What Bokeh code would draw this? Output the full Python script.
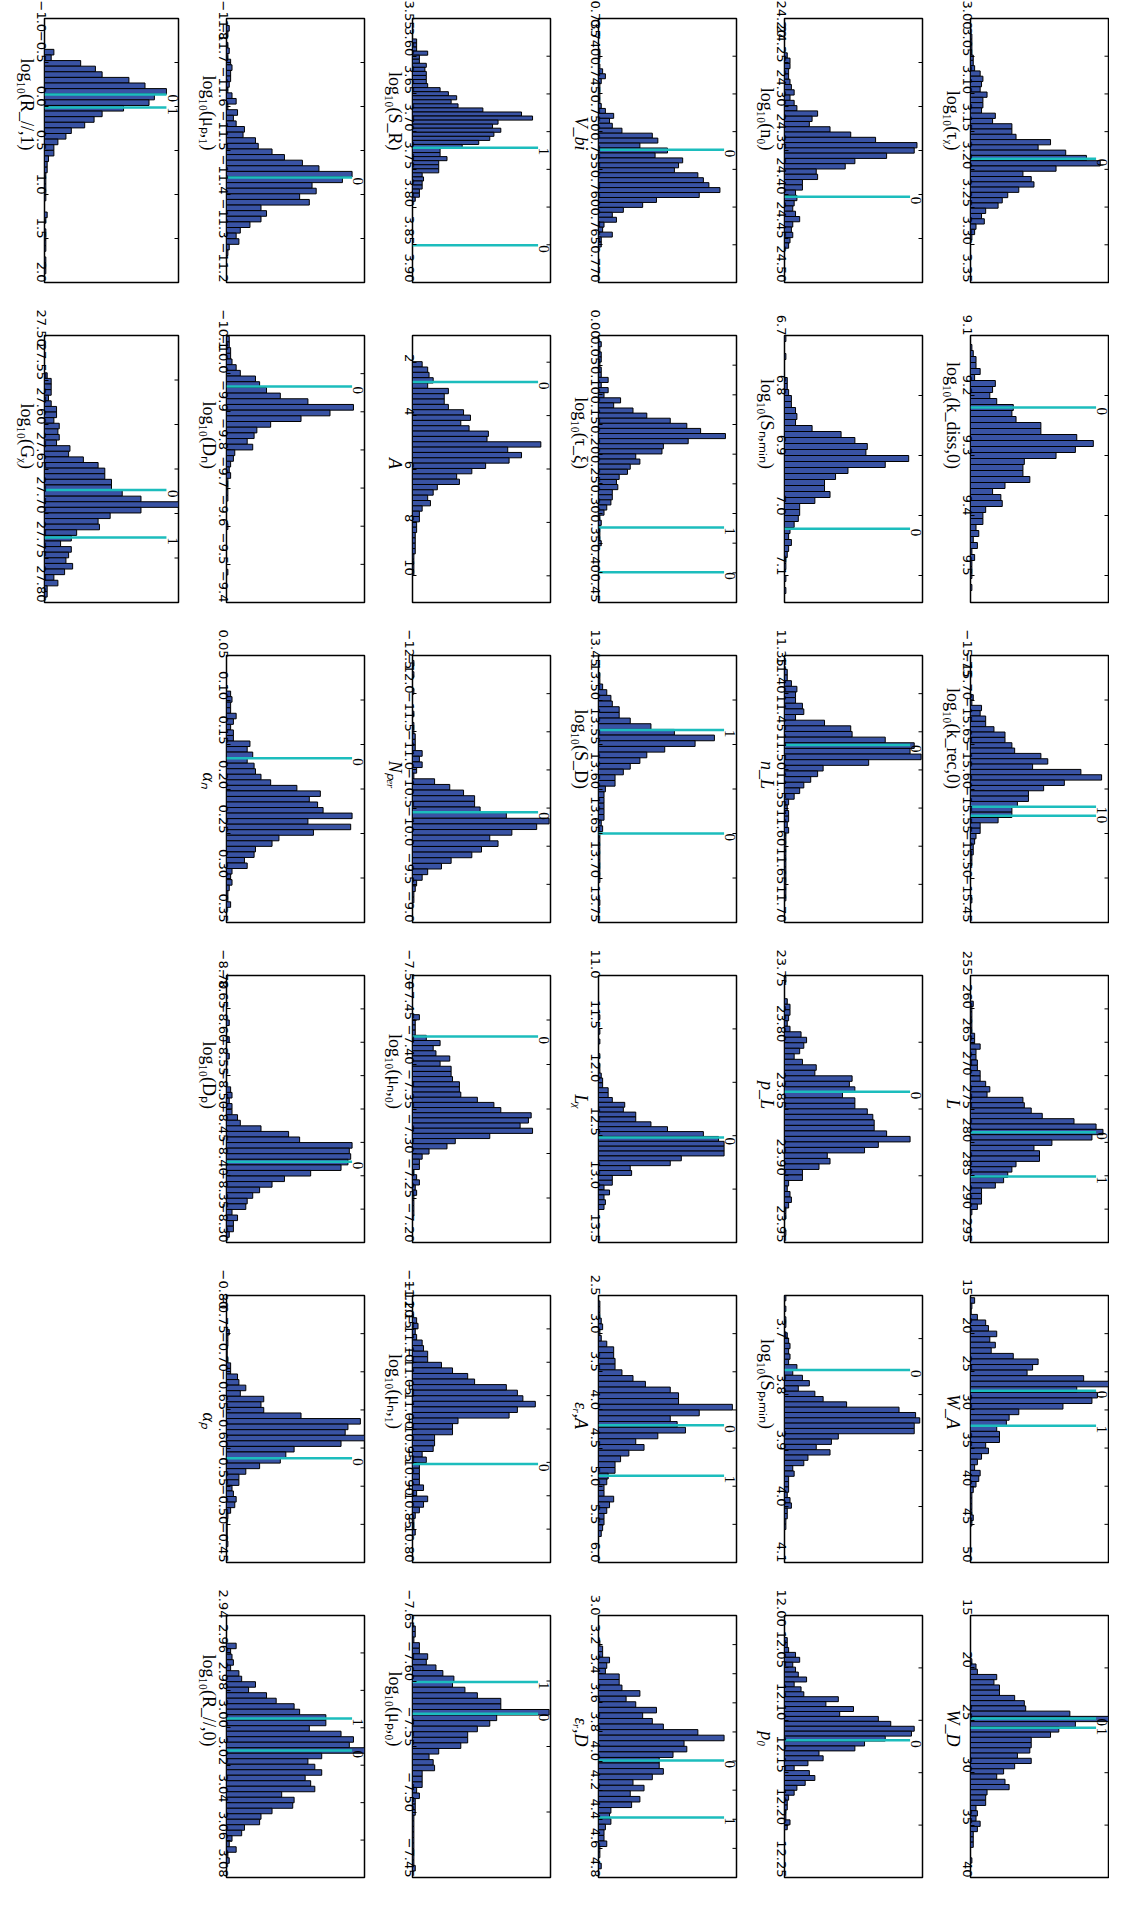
import math
from bokeh.plotting import figure
from bokeh.models import Range1d, FixedTicker, LinearAxis, ColumnDataSource
from bokeh.layouts import row, column
from bokeh.embed import file_html
from bokeh.resources import INLINE
from bokeh.core.properties import value

# ---------------- data (bar lengths in % of the panel's count range) ----------------
PANEL_KEYS = ["tau_chi", "k_diss", "k_rec", "L", "W_A", "W_D",
              "n0", "S_nmin", "n_L", "p_L", "S_pmin", "p_0",
              "V_bi", "tau_xi", "S_D", "L_chi", "eps_A", "eps_D",
              "S_R", "A", "N_per", "mu_n0", "mu_n1", "mu_p0",
              "mu_p1", "D_n", "alpha_n", "D_p", "alpha_p", "R_par0",
              "R_par1", "G_chi"]

LABELS = ["log₁₀(τᵪ)", "log₁₀(k_diss,0)", "log₁₀(k_rec,0)", "L", "W_A", "W_D",
          "log₁₀(n₀)", "log₁₀(Sₙ,ₘᵢₙ)", "n_L", "p_L", "log₁₀(Sₚ,ₘᵢₙ)", "p₀",
          "V_bi", "log₁₀(τ_ξ)", "log₁₀(S_D)", "Lᵪ", "εᵣ,A", "εᵣ,D",
          "log₁₀(S_R)", "A", "Nₚₑᵣ", "log₁₀(μₙ,₀)", "log₁₀(μₙ,₁)", "log₁₀(μₚ,₀)",
          "log₁₀(μₚ,₁)", "log₁₀(Dₙ)", "αₙ", "log₁₀(Dₚ)", "αₚ", "log₁₀(R_//,0)",
          "log₁₀(R_//,1)", "log₁₀(Gᵪ)"]

AXIS_LO = [3.00, 9.1, -15.75, 255, 15, 15, 24.20, 6.7, 11.35, 23.75, 3.623, 12.00,
           0.735, 0.00, 13.45, 11.0, 2.5, 3.0, 3.55, 1, -12.5, -7.50, -11.20, -7.65,
           -11.8, -10.1, 0.05, -8.70, -0.80, 2.94, -1.0, 27.50]
AXIS_HI = [3.35, 9.545, -15.45, 295, 50, 40, 24.50, 7.145, 11.70, 23.95, 4.1, 12.25,
           0.770, 0.45, 13.75, 13.5, 6.0, 4.8, 3.90, 11, -9.0, -7.20, -10.80, -7.45,
           -11.2, -9.4, 0.35, -8.30, -0.45, 3.08, 2.0, 27.80]

TICK_FIRST = [3.00, 9.1, -15.75, 255, 15, 15, 24.20, 6.7, 11.35, 23.75, 3.7, 12.00,
              0.735, 0.00, 13.45, 11.0, 2.5, 3.0, 3.55, 2, -12.5, -7.50, -11.20, -7.65,
              -11.8, -10.1, 0.05, -8.70, -0.80, 2.94, -1.0, 27.50]
TICK_LAST = [3.35, 9.5, -15.45, 295, 50, 40, 24.50, 7.1, 11.70, 23.95, 4.1, 12.25,
             0.770, 0.45, 13.75, 13.5, 6.0, 4.8, 3.90, 10, -9.0, -7.20, -10.80, -7.45,
             -11.2, -9.4, 0.35, -8.30, -0.45, 3.08, 2.0, 27.80]
TICK_STEP = [0.05, 0.1, 0.05, 5, 5, 5, 0.05, 0.1, 0.05, 0.05, 0.1, 0.05,
             0.005, 0.05, 0.05, 0.5, 0.5, 0.2, 0.05, 2, 0.5, 0.05, 0.05, 0.05,
             0.1, 0.1, 0.05, 0.05, 0.05, 0.02, 0.5, 0.05]
TICK_DEC = [2, 1, 2, 0, 0, 0, 2, 1, 2, 2, 1, 2,
            3, 2, 2, 1, 1, 1, 2, 0, 1, 2, 2, 2,
            1, 1, 2, 2, 2, 2, 1, 2]

BIN_START = [3.0205, 9.115, -15.706, 258.85, 15.29, 19.125, 24.239, 6.70, 11.3682, 23.7509,
             3.623, 12.0211, 0.73905, 0.0104, 13.4693, 11.367, 2.571, 3.172, 3.5771, 1.98,
             -12.4355, -7.456, -11.1667, -7.642, -11.784, -10.098, 0.0900, -8.6334, -0.7555,
             2.9548, -0.6494, 27.5419]
BIN_WIDTH = [0.007, 0.01, 0.006, 0.8, 0.73, 0.5, 0.006, 0.01, 0.0074, 0.004125,
             0.0095, 0.0047, 0.000656, 0.0086, 0.006375, 0.0456, 0.0753, 0.03825, 0.00538, 0.2,
             0.0739, 0.0058, 0.00835, 0.00425, 0.01275, 0.0149, 0.00623, 0.00835, 0.0073,
             0.00294, 0.06375, 0.0063]

MARKS = [[3.186], [9.22], [-15.580, -15.570], [278.5, 285.1], [27.47, 32.06], [24.84, 25.72],
         [24.4025], [7.022], [11.4673], [23.837], [3.756], [12.119],
         [0.75241], [0.3235, 0.399], [13.5336, 13.65], [12.516], [4.2, 4.8625], [3.997, 4.388],
         [3.7215, 3.8506], [2.74], [-10.444], [-7.4314], [-10.9475], [-7.5993, -7.575],
         [-11.4385], [-9.966], [0.1655], [-8.421], [-0.5865], [2.9951, 3.0121],
         [-0.1375, 0.0125], [27.6736, 27.7269]]
MARK_LABELS = [["0"], ["0"], ["1", "0"], ["0", "1"], ["0", "1"], ["0", "1"],
               ["0"], ["0"], ["0"], ["0"], ["0"], ["0"],
               ["0"], ["1", "0"], ["1", "0"], ["0"], ["0", "1"], ["0", "1"],
               ["1", "0"], ["0"], ["0"], ["0"], ["0"], ["1", "0"],
               ["0"], ["0"], ["0"], ["0"], ["0"], ["1", "0"],
               ["0", "1"], ["0", "1"]]

tau_chi_counts = [1, 1, 1, 1, 2, 2, 3, 7, 9, 8, 7, 12, 9, 9, 8, 18, 16, 30, 30, 33, 58, 49, 69, 84, 94,
                  62, 38, 44, 46, 35, 27, 23, 20, 11, 8, 10, 4, 3, 1]
k_diss_counts = [1, 2, 4, 4, 7, 3, 18, 16, 14, 19, 31, 30, 33, 51, 51, 77, 89, 76, 62, 39, 38, 38, 43,
                 25, 16, 22, 23, 11, 9, 9, 4, 6, 2, 5, 1, 3, 1, 1, 1, 0, 1]
k_rec_counts = [2, 1, 8, 7, 11, 11, 17, 25, 25, 30, 32, 51, 56, 45, 80, 95, 68, 53, 42, 42, 34, 30, 30,
                20, 7, 7, 4, 3, 2, 2, 1, 1, 0, 0, 0, 0, 0, 0, 1]
L_counts = [2, 1, 1, 1, 1, 1, 3, 3, 7, 4, 4, 5, 5, 7, 7, 11, 14, 12, 38, 39, 44, 52, 75, 91, 96, 88, 59,
            46, 50, 50, 33, 30, 27, 24, 18, 8, 8, 8, 5, 1]
W_A_counts = [3, 1, 0.5, 5, 11, 13, 19, 14, 18, 15, 31, 49, 45, 41, 82, 100, 77, 92, 88, 67, 35, 28, 26,
              19, 21, 21, 11, 13, 8, 5, 3, 7, 6, 4, 2, 1, 1, 1, 1, 2, 1]
W_D_counts = [1, 4, 5, 19, 17, 21, 21, 32, 39, 40, 72, 100, 76, 64, 58, 44, 44, 43, 34, 44, 32, 24, 19,
              25, 28, 12, 11, 11, 4, 5, 4, 7, 5, 2, 2, 2, 0, 0, 1]
n0_counts = [2, 4, 4, 3, 3, 4, 5, 7, 4, 7, 9, 24, 20, 18, 33, 48, 66, 96, 94, 74, 51, 44, 23, 24, 13, 13,
             8, 9, 7, 6, 8, 11, 6, 5, 6, 4, 3]
S_nmin_counts = [1, 0, 0, 1, 0, 0, 0, 2, 2, 3, 5, 5, 8, 9, 8, 20, 41, 51, 60, 59, 90, 73, 46, 37, 29, 29,
                 33, 22, 11, 11, 10, 7, 4, 3, 5, 3, 2, 1, 1, 0, 1, 0, 1]
n_L_counts = [2, 2, 5, 9, 8, 8, 13, 14, 8, 29, 48, 49, 73, 94, 91, 99, 61, 28, 24, 19, 14, 11, 7, 3, 2, 3,
              3, 2, 3, 1, 1, 1, 1, 1, 1, 1, 1, 1, 1, 1, 1]
p_L_counts = [1, 0, 0, 0, 2, 4, 4, 3, 2, 4, 12, 16, 14, 11, 7, 13, 23, 22, 49, 47, 51, 42, 51, 51, 60, 64,
              65, 65, 74, 91, 68, 58, 31, 33, 25, 13, 13, 3, 2, 4, 5, 3, 1, 1, 0, 0, 1]
S_pmin_counts = [1, 0, 1, 0, 1, 1, 0, 2, 3, 4, 3, 4, 3, 9, 6, 13, 18, 10, 22, 28, 45, 83, 95, 98, 94, 94,
                 39, 34, 23, 33, 17, 14, 6, 7, 3, 3, 3, 2, 4, 5, 2, 2, 1, 1]
p_0_counts = [2, 2, 3, 8, 11, 6, 8, 10, 16, 7, 12, 14, 39, 30, 50, 40, 68, 77, 94, 92, 73, 58, 51, 25, 28,
              17, 7, 18, 22, 15, 9, 7, 3, 2, 2, 1, 1, 4, 2]
V_bi_counts = [1, 1, 0, 1, 3, 5, 2, 1, 1, 1, 1, 2, 5, 11, 8, 10, 17, 39, 43, 30, 50, 41, 61, 58, 55, 72,
               76, 80, 88, 73, 42, 32, 18, 10, 13, 4, 3, 10, 2, 2]
tau_xi_counts = [2, 1, 2, 2, 1, 2, 2, 7, 2, 7, 4, 16, 11, 25, 35, 52, 64, 74, 92, 65, 47, 46, 27, 30, 23,
                 21, 15, 13, 14, 10, 10, 9, 6, 4, 1, 2, 1, 1, 1, 2]
S_D_counts = [1, 1, 3, 6, 9, 10, 15, 15, 23, 38, 55, 84, 70, 48, 35, 30, 23, 18, 12, 12, 5, 4, 4, 4, 4, 4,
              2, 3, 1, 1, 1, 1, 1, 1, 1, 1, 1, 0, 0, 0, 1]
L_chi_counts = [1, 0, 0, 1, 0, 1, 0, 0, 1, 0, 1, 1, 2, 3, 3, 7, 7, 10, 19, 18, 27, 27, 38, 50, 76, 87, 91,
                91, 91, 60, 52, 23, 24, 10, 10, 4, 8, 4, 5, 4]
eps_A_counts = [1, 1, 1, 2, 3, 1, 2, 6, 11, 11, 12, 12, 17, 25, 34, 52, 58, 58, 97, 73, 52, 57, 63, 43, 27,
                33, 22, 16, 12, 12, 7, 6, 4, 4, 11, 8, 6, 4, 4, 3, 2]
eps_D_counts = [1, 3, 3, 8, 6, 5, 15, 15, 17, 30, 20, 27, 42, 32, 39, 47, 72, 91, 62, 64, 54, 44, 44, 47,
                39, 25, 33, 23, 30, 24, 9, 8, 9, 5, 4, 4, 6, 1, 1, 0, 2]
S_R_counts = [3, 3, 3, 11, 5, 5, 10, 9, 10, 10, 10, 11, 20, 26, 32, 28, 33, 51, 79, 87, 62, 58, 64, 59, 56,
              48, 36, 20, 20, 25, 19, 19, 19, 7, 8, 7, 7, 5, 5, 2]
A_counts = [7, 11, 12, 15, 11, 26, 23, 23, 26, 37, 42, 35, 41, 55, 54, 93, 69, 79, 70, 53, 43, 32, 34, 18,
            15, 11, 13, 7, 5, 5, 3, 3, 2, 2, 2, 2, 1, 1, 1, 1]
N_per_counts = [1, 0, 1, 0, 0, 1, 0, 0, 0, 1, 0, 1, 1, 2, 2, 2, 7, 5, 7, 3, 1, 16, 27, 37, 45, 45, 49, 68,
                99, 90, 72, 56, 62, 50, 43, 28, 21, 11, 7, 3, 2, 1, 1]
mu_n0_counts = [5, 2, 2, 2, 10, 20, 15, 17, 27, 20, 28, 28, 29, 34, 34, 35, 47, 59, 64, 86, 84, 78, 87, 56,
                31, 25, 12, 7, 5, 5, 1, 3, 5, 2, 3, 1, 1, 1, 1]
mu_n1_counts = [3, 4, 2, 3, 7, 8, 11, 11, 21, 29, 40, 45, 68, 76, 80, 89, 76, 70, 33, 29, 29, 16, 16, 15,
                7, 10, 5, 5, 5, 5, 8, 3, 11, 8, 5, 2, 1, 1, 2, 0]
mu_p0_counts = [2, 2, 1, 5, 5, 11, 10, 17, 22, 30, 29, 38, 47, 64, 64, 99, 61, 56, 47, 40, 40, 35, 19, 12,
                15, 16, 7, 7, 7, 3, 5, 2, 2, 2, 1, 1, 1, 1, 1, 1, 1, 1, 1, 2]
mu_p1_counts = [2, 1, 0, 1, 2, 1, 3, 4, 3, 3, 2, 1, 4, 7, 1, 8, 5, 7, 13, 12, 21, 23, 33, 42, 55, 67, 91,
                84, 62, 65, 53, 60, 25, 29, 25, 17, 10, 7, 9, 2, 1]
D_n_counts = [2, 2, 3, 3, 4, 7, 10, 21, 24, 29, 39, 59, 92, 75, 54, 32, 22, 20, 15, 19, 6, 5, 3, 2, 3, 1,
              1, 1, 1, 0, 0, 0, 0, 1, 0, 0, 0, 0, 0, 0, 0, 1]
alpha_n_counts = [3, 4, 3, 3, 7, 5, 3, 5, 5, 17, 15, 19, 15, 20, 21, 25, 32, 51, 68, 60, 66, 70, 91, 59,
                  90, 63, 38, 33, 21, 20, 13, 15, 4, 3, 4, 2, 1, 1, 3]
D_p_counts = [2, 0, 0, 2, 0, 0, 2, 0, 0, 0, 0, 0, 3, 4, 2, 4, 4, 8, 10, 25, 45, 53, 91, 89, 90, 88, 83,
              61, 42, 33, 24, 19, 15, 14, 4, 8, 5, 5, 2]
alpha_p_counts = [2, 1, 1, 0.5, 0.5, 1, 3, 3, 8, 9, 14, 10, 27, 25, 27, 54, 97, 88, 86, 100, 83, 49, 43,
                  39, 24, 14, 9, 9, 4, 5, 7, 6, 3, 1, 0.5, 0.5, 0.5, 0.5, 1]
R_par0_counts = [7, 3, 4, 5, 3, 9, 11, 21, 16, 29, 36, 49, 53, 72, 72, 60, 83, 92, 89, 100, 69, 59, 64,
                 69, 57, 61, 64, 40, 49, 48, 33, 25, 24, 13, 11, 4, 2, 7, 1, 2]
R_par1_counts = [7, 5, 27, 38, 43, 63, 75, 91, 82, 78, 59, 43, 37, 30, 20, 16, 10, 7, 7, 3, 2, 2, 1, 1, 1,
                 1, 1, 0, 0, 2, 1, 0, 1, 1, 1, 1, 0, 1, 1, 1]
G_chi_counts = [2, 5, 5, 5, 3, 5, 9, 9, 7, 11, 10, 11, 9, 19, 18, 29, 40, 45, 45, 50, 50, 58, 72, 100, 72,
                49, 40, 41, 24, 20, 12, 20, 18, 16, 21, 15, 7, 10, 2, 2]

COUNTS = [tau_chi_counts, k_diss_counts, k_rec_counts, L_counts, W_A_counts, W_D_counts,
          n0_counts, S_nmin_counts, n_L_counts, p_L_counts, S_pmin_counts, p_0_counts,
          V_bi_counts, tau_xi_counts, S_D_counts, L_chi_counts, eps_A_counts, eps_D_counts,
          S_R_counts, A_counts, N_per_counts, mu_n0_counts, mu_n1_counts, mu_p0_counts,
          mu_p1_counts, D_n_counts, alpha_n_counts, D_p_counts, alpha_p_counts, R_par0_counts,
          R_par1_counts, G_chi_counts]

# ---------------- style ----------------
BAR_COLOR = "#3953a4"
MARK_COLOR = "#1cbdbd"
COUNT_MAX = 100.0
MARK_LEN = 91.0
LEFT_B = 44
TICK_PX = 4
HAS_LABEL_ORIENT = "axis_label_orientation" in LinearAxis.properties()

# per page-row: (top border, frame height, bottom border)
ROW_GEOM = [(18, 264, 27), (26, 267, 27), (26, 267, 27), (26, 267, 27), (26, 267, 27), (26, 262, 19)]


def make_panel(k, width, right_b, frame_w, geom):
    top_b, frame_h, bottom_b = geom
    ticks = []
    n = int(round((TICK_LAST[k] - TICK_FIRST[k]) / TICK_STEP[k]))
    for i in range(n + 1):
        ticks.append(round(TICK_FIRST[k] + i * TICK_STEP[k], 6))
    overrides = {t: ("%.*f" % (TICK_DEC[k], t)).replace("-", "\u2212") for t in ticks}

    p = figure(width=width, height=top_b + frame_h + bottom_b,
               output_backend="svg", toolbar_location=None,
               x_range=Range1d(0, COUNT_MAX),
               y_range=Range1d(AXIS_HI[k], AXIS_LO[k]),
               min_border_left=LEFT_B, min_border_right=right_b,
               min_border_top=top_b, min_border_bottom=bottom_b)
    p.xaxis.visible = False
    p.xgrid.visible = False
    p.ygrid.visible = False
    p.outline_line_color = "black"
    p.outline_line_width = 1.5
    p.background_fill_color = "white"
    p.border_fill_color = "white"

    ax = p.yaxis[0]
    ax.ticker = FixedTicker(ticks=ticks, minor_ticks=[])
    ax.major_label_overrides = overrides
    ax.major_label_orientation = -math.pi / 2
    ax.major_label_standoff = 3
    ax.major_label_text_font = "DejaVu Sans"
    ax.major_label_text_font_size = "13px"
    ax.major_label_text_color = "black"
    ax.major_tick_in = TICK_PX
    ax.major_tick_out = 0
    ax.major_tick_line_color = "black"
    ax.minor_tick_in = 0
    ax.minor_tick_out = 0
    ax.axis_line_color = None
    ax.axis_label = LABELS[k]
    ax.axis_label_standoff = 3
    ax.axis_label_text_font = "Liberation Serif"
    ax.axis_label_text_font_size = "18px"
    ax.axis_label_text_color = "black"
    ax.axis_label_text_font_style = "normal" if LABELS[k].startswith("log") else "italic"
    if HAS_LABEL_ORIENT:
        ax.axis_label_orientation = -math.pi / 2

    # inward tick marks on the opposite (right) edge of the frame
    tick_len = COUNT_MAX * TICK_PX / frame_w
    tsrc = ColumnDataSource(dict(y=ticks, x0=[COUNT_MAX - tick_len] * len(ticks),
                                 x1=[COUNT_MAX] * len(ticks)))
    p.segment(x0="x0", y0="y", x1="x1", y1="y", source=tsrc, line_color="black", line_width=1)

    counts = COUNTS[k]
    w = BIN_WIDTH[k]
    centers = [BIN_START[k] + w * (i + 0.5) for i in range(len(counts))]
    src = ColumnDataSource(dict(y=centers, right=counts))
    p.hbar(y="y", height=w, left=0, right="right", source=src,
           fill_color=BAR_COLOR, line_color="black", line_width=1)

    marks = MARKS[k]
    msrc = ColumnDataSource(dict(y=marks, x0=[0.0] * len(marks), x1=[MARK_LEN] * len(marks),
                                 tx=[MARK_LEN + 0.8] * len(marks), label=MARK_LABELS[k]))
    p.segment(x0="x0", y0="y", x1="x1", y1="y", source=msrc,
              line_color=MARK_COLOR, line_width=2.5)
    p.text(x="tx", y="y", text="label", source=msrc, angle=-math.pi / 2,
           text_font=value("Liberation Serif"), text_font_size="15px",
           text_align="left", text_baseline="bottom", text_color="black")
    return p


# grid: original row r (0..5) becomes page column 5-r, original col c becomes page row c
COL_WIDTHS = [182, 186, 186, 186, 186, 183]
COL_RIGHT = [4, 4, 4, 4, 4, 1]
COL_FRAME = [134, 138, 138, 138, 138, 138]

columns = []
for gc in range(6):
    r = 5 - gc
    figs = []
    for c in range(6):
        k = r * 6 + c
        if k >= len(PANEL_KEYS):
            break
        figs.append(make_panel(k, COL_WIDTHS[gc], COL_RIGHT[gc], COL_FRAME[gc], ROW_GEOM[c]))
    columns.append(column(*figs, spacing=0))

layout = row(*columns, spacing=0)

open("out.html", "w").write(file_html(layout, INLINE))
